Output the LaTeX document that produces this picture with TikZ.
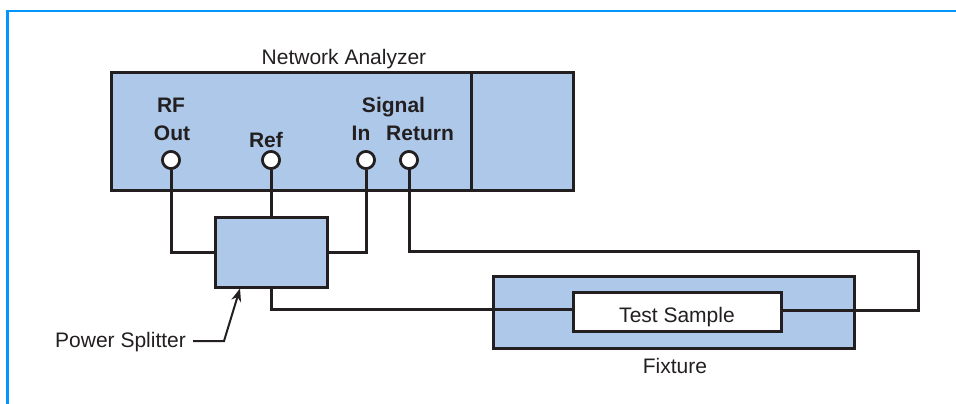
\documentclass[tikz,border=0pt]{standalone}
\usepackage{fontspec}
\setmainfont{Liberation Sans}
\usetikzlibrary{arrows.meta}
\definecolor{boxfill}{RGB}{173,200,232}
\definecolor{ink}{RGB}{35,31,32}
\definecolor{framec}{RGB}{0,150,255}
\begin{document}
\begin{tikzpicture}[x=1pt,y=-1pt,
  every node/.style={font=\fontsize{21}{25}\selectfont, text=ink},
  box/.style={draw=ink, fill=boxfill, line width=3pt, inner sep=0pt},
  whitebox/.style={draw=ink, fill=white, line width=3pt, inner sep=0pt},
  port/.style={circle, draw=ink, fill=white, line width=2.6pt, minimum size=17pt, inner sep=0pt},
  wire/.style={draw=ink, line width=3pt},
  lab/.style={font=\fontsize{21}{25}\selectfont\bfseries, anchor=base, inner sep=0pt},
  txt/.style={anchor=base, inner sep=0pt},
  leader/.style={draw=ink, line width=2pt, -{Stealth[length=13pt,width=10pt]}},
  framestyle/.style={draw=framec, line width=2.2pt}]
\useasboundingbox (0,0) rectangle (956,404);
\draw[framestyle] (7.5,404) -- (7.5,11) -- (956,11);

% Network analyzer
\node[box, minimum width=462pt, minimum height=117pt] (na) at (342,131.5) {};
\node[box, minimum width=102pt, minimum height=117pt] (panel) at (522,131.5) {};
\node[txt] (title) at (344,65) {Network Analyzer};

% port labels
\node[lab] (lrf) at (171,113) {RF};
\node[lab] (lout) at (172,140) {Out};
\node[lab] (lref) at (266,147) {Ref};
\node[lab] (lsig) at (393.5,113) {Signal};
\node[lab] (lin) at (361,140) {In};
\node[lab] (lret) at (420,140) {Return};

% power splitter and fixture
\node[box, minimum width=112pt, minimum height=70pt] (ps) at (271,252) {};
\node[box, minimum width=361pt, minimum height=72pt] (fx) at (673.5,312) {};
\node[txt] (fxl) at (675,373) {Fixture};

\coordinate (c1) at (918,251);

% ports
\node[port] (rf) at (171,160) {};
\node[port] (ref) at (271,160) {};
\node[port] (in) at (366,160) {};
\node[port] (ret) at (409,160) {};

% test sample
\node[whitebox, minimum width=208pt, minimum height=39pt] (ts) at (677,311.5) {};

% wires
\draw[wire] (rf.south) |- (ps.west);
\draw[wire] (ref.south) -- (ps.north);
\draw[wire] (in.south) |- (ps.east);
\draw[wire] ([yshift=2pt]ret.south) |- (c1) |- ([yshift=1.5pt]ts.east);
\draw[wire] (ps.south) |- ([yshift=2pt]ts.west);

\node[whitebox, minimum width=208pt, minimum height=39pt] (ts2) at (677,311.5) {};
\node[txt] (tsl) at (677,322) {Test Sample};

% redraw ports on top
\node[port] at (rf) {};
\node[port] at (ref) {};
\node[port] at (in) {};
\node[port] at (ret) {};

% power splitter label
\node[txt, anchor=base west] (psl) at (55,347) {Power Splitter};
\coordinate (pl2) at (224,341);
\draw[leader] ([xshift=7pt]psl.east |- pl2) -- (pl2) -- ([xshift=-31pt]ps.south);
\end{tikzpicture}
\end{document}
